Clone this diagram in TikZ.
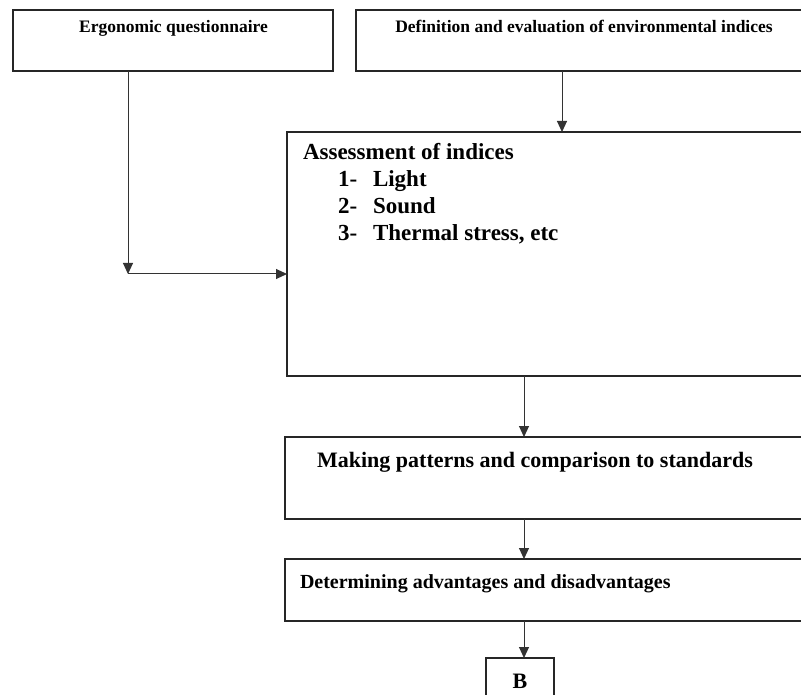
\documentclass[tikz,border=0pt]{standalone}
\usepackage{fontspec}
\setmainfont{Liberation Serif}
\usetikzlibrary{arrows.meta}
\begin{document}
\begin{tikzpicture}[x=1pt,y=-1pt,
  box/.style={draw=black!85, line width=1.5pt, inner sep=0pt, outer sep=0pt, anchor=north west},
  link/.style={draw=black!80, line width=1pt, -{Triangle[width=10pt,length=11pt]}},
  txt/.style={inner sep=0pt, outer sep=0pt},
  headfont/.style={font=\bfseries\fontsize{17.5}{21}\selectfont},
  bodyfont/.style={font=\bfseries\fontsize{23}{27}\selectfont}]
\useasboundingbox (0,0) rectangle (801,695);
\clip (0,0) rectangle (801,695);

% frames
\node[box, minimum width=320pt, minimum height=61pt] (quest) at (13,10) {};
\node[box, minimum width=470pt, minimum height=61pt] (defn) at (356,10) {};
\node[box, minimum width=540pt, minimum height=244pt] (assess) at (287,132) {};
\node[box, minimum width=540pt, minimum height=82pt] (pattern) at (285,437) {};
\node[box, minimum width=540pt, minimum height=62pt] (advant) at (285,559) {};
\node[box, minimum width=68pt, minimum height=60pt] (bbox) at (486,658) {};

% labels
\node[txt, headfont, anchor=base] (questtxt) at (173.5,33) {Ergonomic questionnaire};
\node[txt, headfont, anchor=base] (defntxt) at (584,33) {Definition and evaluation of environmental indices};
\node[txt, bodyfont, anchor=base west] (asstitle) at (303,160) {Assessment of indices};
\node[txt, bodyfont, anchor=base west] (num1) at (338,187) {1-};
\node[txt, bodyfont, anchor=base west] (item1) at (373,187) {Light};
\node[txt, bodyfont, anchor=base west] (num2) at (338,214) {2-};
\node[txt, bodyfont, anchor=base west] (item2) at (373,214) {Sound};
\node[txt, bodyfont, anchor=base west] (num3) at (338,241) {3-};
\node[txt, bodyfont, anchor=base west] (item3) at (373,241) {Thermal stress, etc};
\node[txt, font=\bfseries\fontsize{22}{26}\selectfont, anchor=base] (patterntxt) at (535,467) {Making patterns and comparison to standards};
\node[txt, font=\bfseries\fontsize{20}{24}\selectfont, anchor=base west] (advanttxt) at (300,588) {Determining advantages and disadvantages};
\node[txt, font=\bfseries\fontsize{22}{26}\selectfont, anchor=base] (btxt) at (520,688) {B};

% connectors
\coordinate (drop) at (562,0);
\coordinate (elbow) at (128,274);
\coordinate (spine) at (524,0);
\draw[link] (drop |- defn.south) -- (drop |- assess.north);
\draw[link] (quest.south -| elbow) -- (elbow);
\draw[link] (elbow) -- (elbow -| assess.west);
\draw[link] (spine |- assess.south) -- (spine |- pattern.north);
\draw[link] (spine |- pattern.south) -- (spine |- advant.north);
\draw[link] (spine |- advant.south) -- (spine |- bbox.north);
\end{tikzpicture}
\end{document}
